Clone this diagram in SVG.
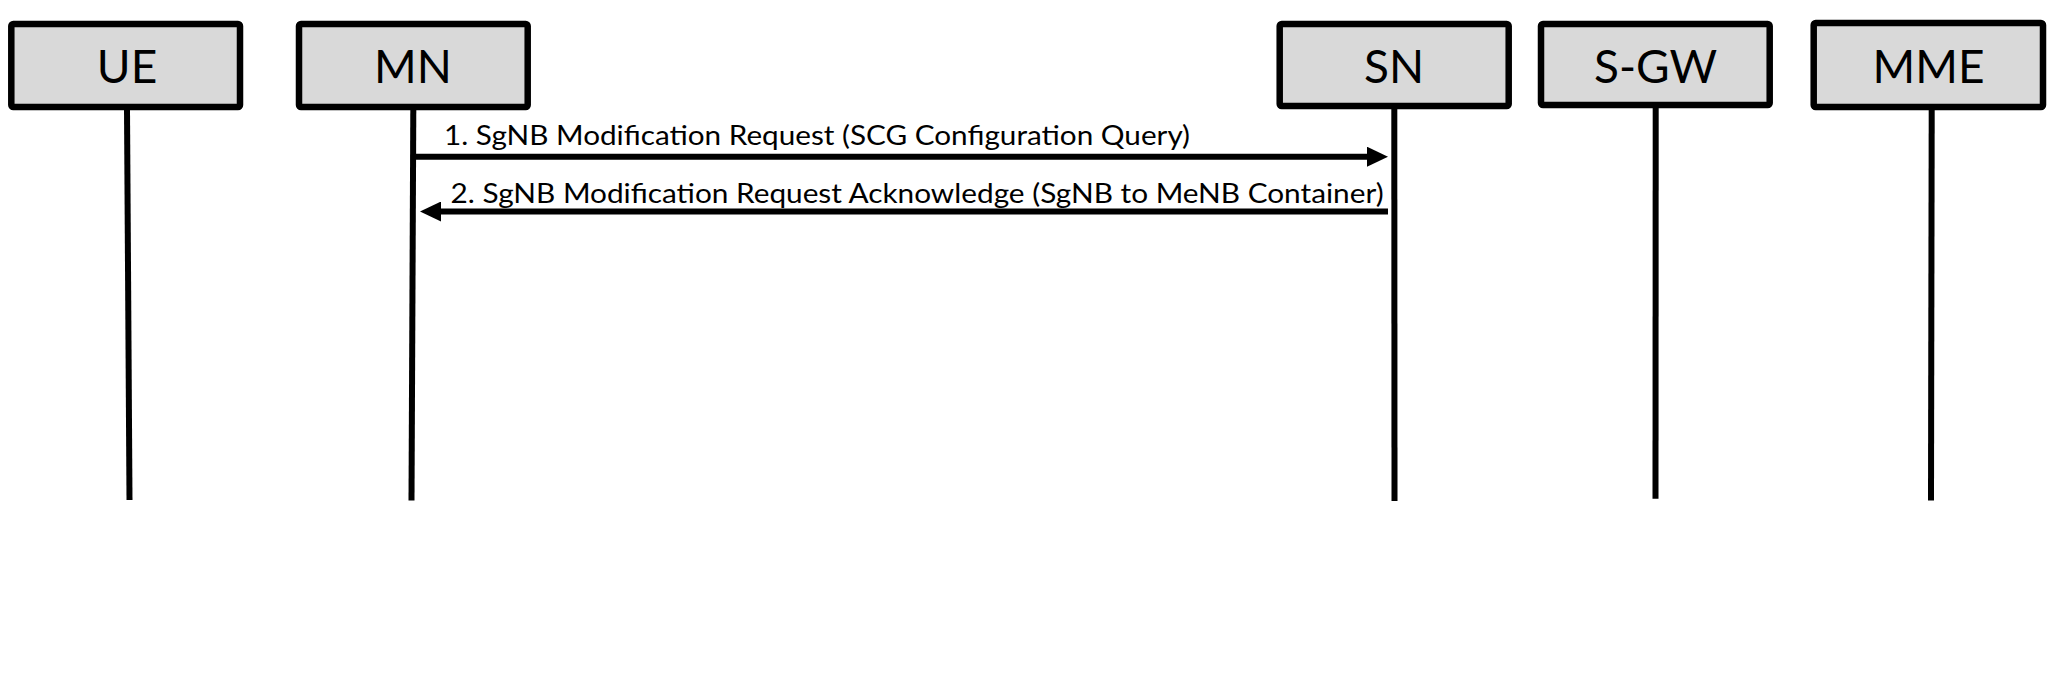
<svg xmlns="http://www.w3.org/2000/svg" width="2048" height="674" viewBox="0 0 2048 674">
<style>
.box{fill:#d9d9d9;stroke:#000;stroke-width:6.5;}
.lbl{font-family:Lato,"Liberation Sans",sans-serif;font-size:46px;fill:#000;text-anchor:middle;}
.life{stroke:#000;stroke-width:6;fill:none;}
.msg{stroke:#000;stroke-width:6;fill:none;}
.mtxt{font-family:Lato,"Liberation Sans",sans-serif;font-size:26px;fill:#000;}
</style>
<defs>
<marker id="ah" markerUnits="userSpaceOnUse" markerWidth="22" markerHeight="20" refX="3" refY="10" orient="auto">
<path d="M0,0 L21,10 L0,20 Z" fill="#000"/>
</marker>
</defs>
<rect width="2048" height="674" fill="#fff"/>
<g id="UE">
<rect class="box" x="11.3" y="24" width="228.7" height="83" rx="2"/>
<text class="lbl" x="127" y="82.7">UE</text>
</g>
<g id="MN">
<rect class="box" x="299" y="24" width="228.7" height="83" rx="2"/>
<text class="lbl" x="413" y="82.7">MN</text>
</g>
<g id="SN">
<rect class="box" x="1279.7" y="24" width="229" height="82" rx="2"/>
<text class="lbl" x="1394" y="82.7">SN</text>
</g>
<g id="SGW">
<rect class="box" x="1541" y="24" width="228.7" height="81" rx="2"/>
<text class="lbl" x="1655.5" y="82.7">S-GW</text>
</g>
<g id="MME">
<rect class="box" x="1813.7" y="23" width="229.3" height="84" rx="2"/>
<text class="lbl" x="1928.5" y="82.7">MME</text>
</g>
<g id="connectors">
<line class="life" x1="127" y1="110" x2="129.5" y2="500"/>
<line class="life" x1="413.3" y1="110" x2="411.5" y2="500.5"/>
<line class="life" x1="1394.3" y1="109" x2="1394.5" y2="501"/>
<line class="life" x1="1655.7" y1="108" x2="1655.5" y2="498.7"/>
<line class="life" x1="1931.7" y1="110" x2="1931" y2="500.5"/>
<line class="msg" x1="413" y1="156.7" x2="1370" y2="156.7" marker-end="url(#ah)"/>
<text class="mtxt" x="444" y="145" textLength="746" lengthAdjust="spacingAndGlyphs">1. SgNB Modification Request (SCG Configuration Query)</text>
<line class="msg" x1="1388" y1="211.5" x2="438" y2="211.5" marker-end="url(#ah)"/>
<text class="mtxt" x="450.6" y="202.5" textLength="933" lengthAdjust="spacingAndGlyphs">2. SgNB Modification Request Acknowledge (SgNB to MeNB Container)</text>
</g>
</svg>
